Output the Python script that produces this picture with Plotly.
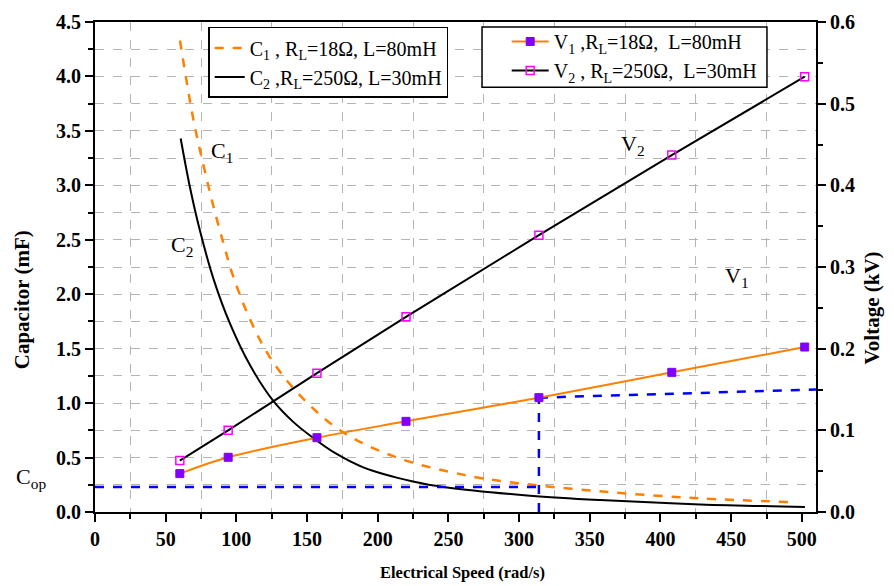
import plotly.graph_objects as go

# ---------------- data ----------------
c1_x = [60.1, 69.5, 76.6, 83.7, 90.8, 97.6, 110, 123.8, 142.9, 173.3, 213.6, 260.3, 291.4, 357.2, 428.0, 490.2]
c1_y = [4.33, 3.61, 3.19, 2.81, 2.47, 2.17, 1.76, 1.42, 1.10, 0.75, 0.50, 0.343, 0.277, 0.19, 0.125, 0.092]

c2_x = [60.6, 67.2, 74.3, 84.2, 95.5, 110, 126.1, 140, 154.4, 170, 189.8, 224.9, 249.0, 307.7, 357.2, 428.0, 502.2]
c2_y = [3.43, 2.98, 2.58, 2.125, 1.73, 1.34, 1.02, 0.83, 0.68, 0.54, 0.41, 0.28, 0.225, 0.15, 0.11, 0.07, 0.046]

v_x = [60, 94.2, 157, 220, 314, 408, 502]
v1_y = [0.047, 0.067, 0.091, 0.111, 0.140, 0.171, 0.202]
v2_y = [0.063, 0.100, 0.170, 0.239, 0.339, 0.437, 0.533]

cop_value = 0.23
op_speed = 314
op_v_end_x = [314, 510]
op_v_end_y = [0.140, 0.150]

x_ticks = [0, 50, 100, 150, 200, 250, 300, 350, 400, 450, 500]
x_grid = [25, 75, 125, 175, 225, 275, 325, 375, 425, 475]

SERIF = "Liberation Serif, Times New Roman, serif"
ORANGE = "#FF8000"
PURPLE = "#8000FF"
MAGENTA = "#FF00FF"
BLUE = "#0000FF"

fig = go.Figure()

# invisible helper trace so the grid-only x axis exists
fig.add_trace(go.Scatter(x=x_grid, y=[None] * len(x_grid), xaxis="x2", mode="lines",
                         showlegend=False, hoverinfo="skip"))

# capacitor curves (left axis)
fig.add_trace(go.Scatter(x=c1_x, y=c1_y, mode="lines", line=dict(color=ORANGE, width=2.5, dash="dash", shape="spline"),
                         name="C<sub>1</sub> , R<sub>L</sub>=18Ω, L=80mH", legend="legend"))
fig.add_trace(go.Scatter(x=c2_x, y=c2_y, mode="lines", line=dict(color="black", width=2, shape="spline"),
                         name="C<sub>2</sub> ,R<sub>L</sub>=250Ω, L=30mH", legend="legend"))

# Cop guide lines
fig.add_trace(go.Scatter(x=[0, op_speed], y=[cop_value, cop_value], mode="lines",
                         line=dict(color=BLUE, width=2.5, dash="dash"), showlegend=False))
fig.add_trace(go.Scatter(x=[op_speed, op_speed], y=[0, v1_y[4]], mode="lines", yaxis="y2",
                         line=dict(color=BLUE, width=2.5, dash="dash"), showlegend=False))
fig.add_trace(go.Scatter(x=op_v_end_x, y=op_v_end_y, mode="lines", yaxis="y2",
                         line=dict(color=BLUE, width=2.5, dash="dash"), showlegend=False))

# voltage curves (right axis)
fig.add_trace(go.Scatter(x=v_x, y=v1_y, mode="lines+markers", yaxis="y2",
                         line=dict(color=ORANGE, width=2, shape="spline"),
                         marker=dict(symbol="square", size=8, color=PURPLE, line=dict(color=PURPLE, width=1)),
                         name="V<sub>1</sub> ,R<sub>L</sub>=18Ω, &nbsp;L=80mH", legend="legend2"))
fig.add_trace(go.Scatter(x=v_x, y=v2_y, mode="lines+markers", yaxis="y2",
                         line=dict(color="black", width=2),
                         marker=dict(symbol="square-open", size=8, color=MAGENTA, line=dict(color=MAGENTA, width=1.5)),
                         name="V<sub>2</sub> , R<sub>L</sub>=250Ω, &nbsp;L=30mH", legend="legend2"))

grid = dict(showgrid=True, gridcolor="#b4b4b4", griddash="dash", gridwidth=1)
tickfont = dict(family=SERIF, size=20, weight="bold")

fig.update_layout(
    width=894, height=586,
    margin=dict(l=95, r=78, t=22, b=74),
    plot_bgcolor="white", paper_bgcolor="white",
    font=dict(family=SERIF, color="black"),
    xaxis=dict(range=[0, 510], tickvals=x_ticks, showgrid=False, zeroline=False, automargin=False,
               showline=True, linecolor="black", linewidth=2, mirror=True,
               ticks="outside", ticklen=8, tickwidth=2, tickcolor="black",
               tickfont=tickfont,
               minor=dict(tickvals=x_grid, ticks="outside", ticklen=5, tickwidth=1.5, tickcolor="black", showgrid=False)),
    xaxis2=dict(range=[0, 510], overlaying="x", tickvals=x_grid, showticklabels=False, ticks="", automargin=False,
                zeroline=False, showline=False, **grid),
    yaxis=dict(range=[0, 4.5], dtick=0.5, tickformat=".1f", zeroline=False, automargin=False,
               showline=True, linecolor="black", linewidth=2,
               ticks="outside", ticklen=8, tickwidth=2, tickcolor="black",
               tickfont=tickfont,
               minor=dict(dtick=0.25, ticks="outside", ticklen=5, tickwidth=1.5, tickcolor="black", **grid),
               **grid),
    yaxis2=dict(range=[0, 0.6], dtick=0.1, tickformat=".1f", overlaying="y", side="right", showgrid=False,
                zeroline=False, showline=True, linecolor="black", linewidth=2, automargin=False,
                ticks="outside", ticklen=8, tickwidth=2, tickcolor="black",
                tickfont=tickfont,
                minor=dict(dtick=0.05, ticks="outside", ticklen=5, tickwidth=1.5, tickcolor="black")),
    legend=dict(x=0.157, y=0.99, xanchor="left", yanchor="top", bgcolor="white",
                bordercolor="black", borderwidth=1.5, font=dict(family=SERIF, size=20),
                tracegroupgap=0),
    legend2=dict(x=0.571, y=1.0, xanchor="left", yanchor="top", bgcolor="rgba(0,0,0,0)",
                 borderwidth=0, font=dict(family=SERIF, size=20), itemwidth=37,
                 tracegroupgap=0),
    showlegend=True,
)

# frame of the right-hand legend (wider on the left, like the original)
fig.add_shape(type="rect", xref="paper", yref="paper", x0=0.5368, x1=0.932, y0=0.867, y1=0.99,
              line=dict(color="black", width=1.5), fillcolor="white", layer="above")

# axis titles placed like the original
fig.add_annotation(x=0.51, xref="paper", y=-0.124, yref="paper", text="<b>Electrical Speed (rad/s)</b>",
                   xanchor="center", yanchor="middle", showarrow=False, font=dict(family=SERIF, size=16.5))
fig.add_annotation(x=-0.102, xref="paper", y=0.433, yref="paper", text="<b>Capacitor (mF)</b>", textangle=-90,
                   xanchor="center", yanchor="middle", showarrow=False, font=dict(family=SERIF, size=21))
fig.add_annotation(x=1.078, xref="paper", y=0.416, yref="paper", text="<b>Voltage (kV)</b>", textangle=-90,
                   xanchor="center", yanchor="middle", showarrow=False, font=dict(family=SERIF, size=21))

ann_font = dict(family=SERIF, size=22, color="black")
fig.add_annotation(x=90, y=3.31, text="C<sub>1</sub>", showarrow=False, font=ann_font)
fig.add_annotation(x=61.5, y=2.44, text="C<sub>2</sub>", showarrow=False, font=ann_font)
fig.add_annotation(x=380.6, y=3.37, text="V<sub>2</sub>", showarrow=False, font=ann_font)
fig.add_annotation(x=454, y=2.16, text="V<sub>1</sub>", showarrow=False, font=ann_font)
fig.add_annotation(x=-0.089, xref="paper", y=0.31, text="C<sub>op</sub>", xanchor="center", yanchor="middle",
                   showarrow=False, font=ann_font)

fig.write_html("out.html")
